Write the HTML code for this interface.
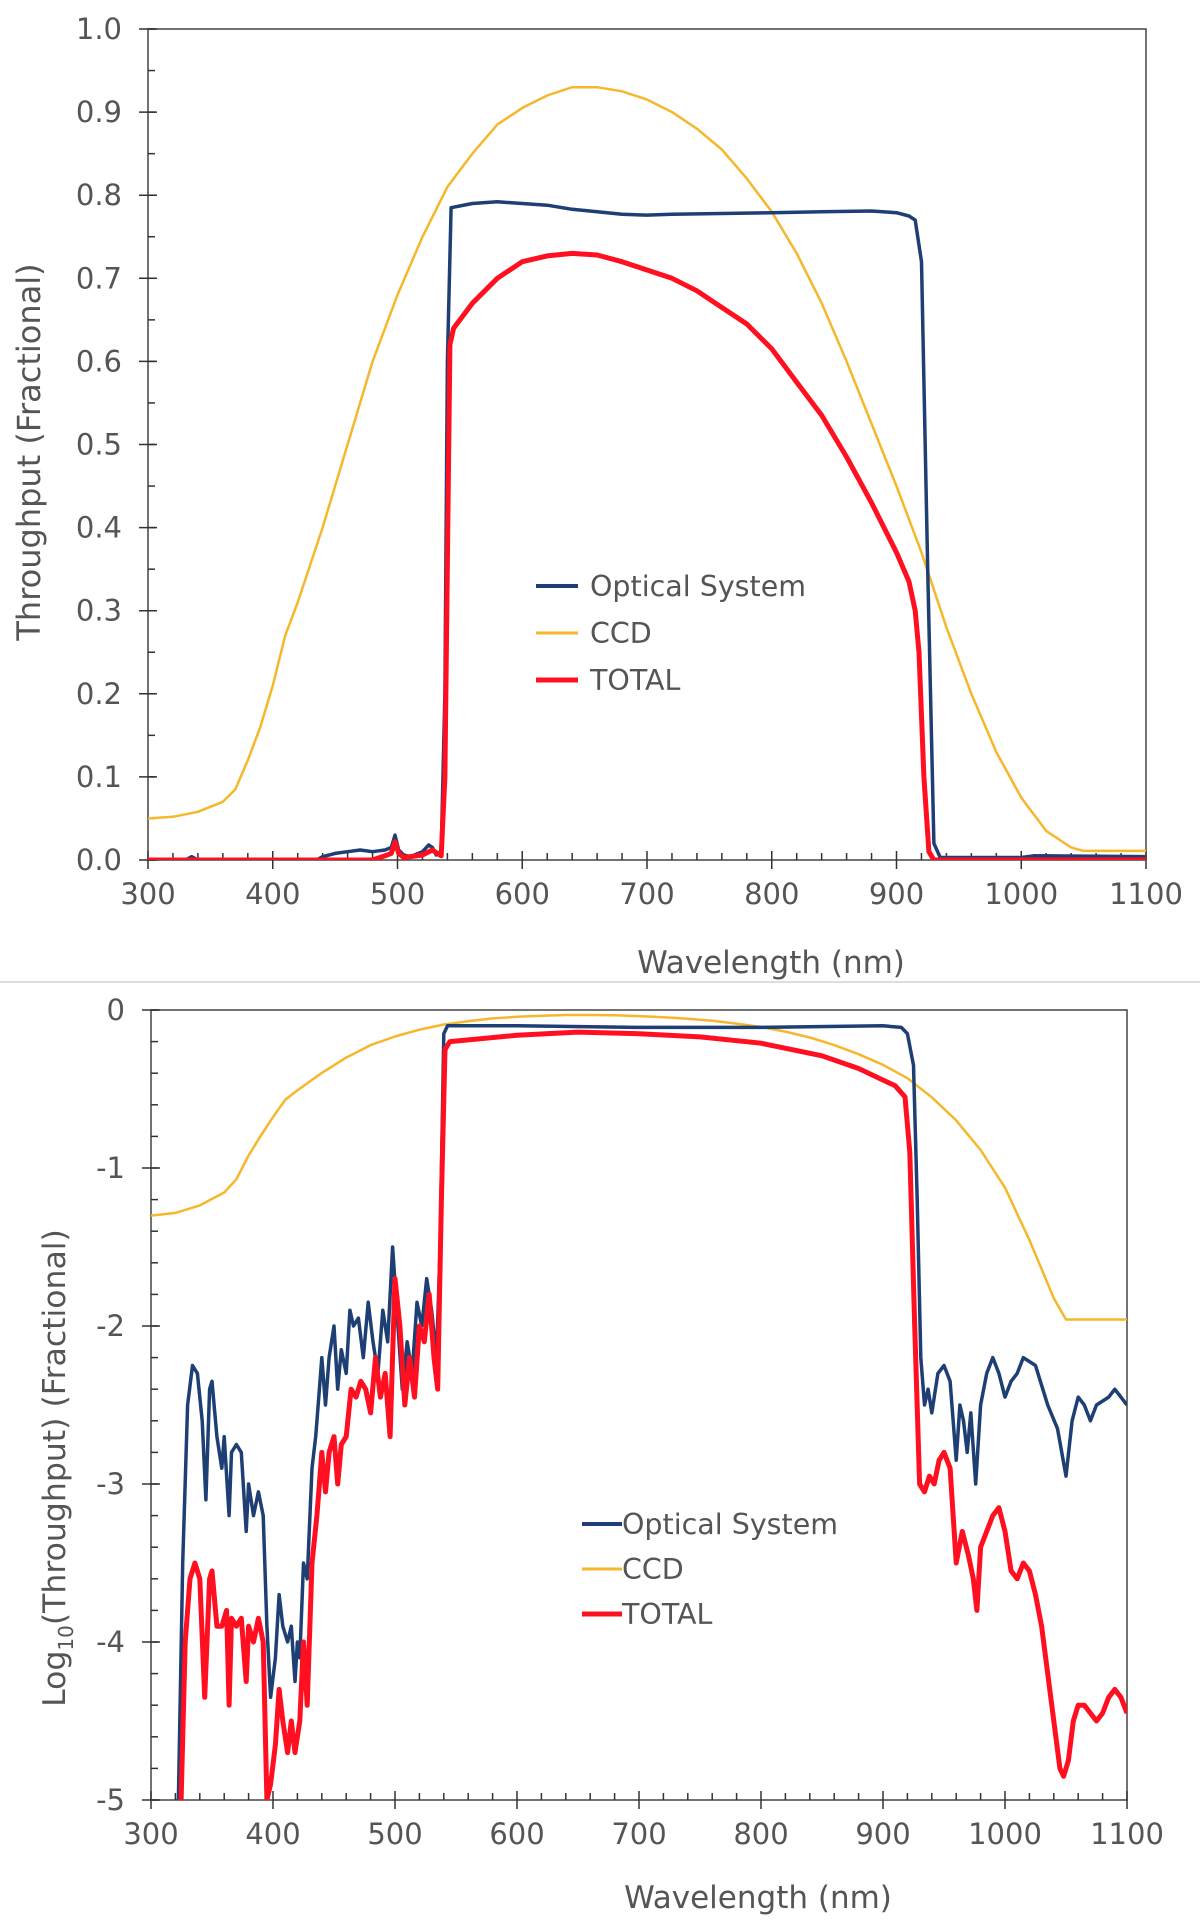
<!DOCTYPE html>
<html><head><meta charset="utf-8"><style>
html,body{margin:0;padding:0;background:#fff}
svg{display:block}
text{font-family:"DejaVu Sans","Liberation Sans",sans-serif;fill:#555}
</style></head><body>
<svg id="svg" width="1200" height="1921" viewBox="0 0 1200 1921" xmlns="http://www.w3.org/2000/svg">
<defs>
<clipPath id="clipTop"><rect x="148" y="29" width="998" height="831"/></clipPath>
<clipPath id="clipBot"><rect x="151" y="1010" width="976" height="790"/></clipPath>
</defs>
<line x1="0" y1="982" x2="1200" y2="982" stroke="#ddd" stroke-width="2"/>
<g id="top"></g>
<g id="bot"></g>
</svg>
<script>
// ---- shared data ----
const ccdWl = [300,320,340,360,370,380,390,400,410,420,440,460,480,500,520,540,560,580,600,620,640,660,680,700,720,740,760,780,800,820,840,860,880,900,920,940,960,980,1000,1020,1040,1050,1100];
const ccdVal = [0.05,0.052,0.058,0.07,0.085,0.12,0.16,0.21,0.27,0.31,0.4,0.5,0.6,0.68,0.75,0.81,0.85,0.885,0.905,0.92,0.93,0.93,0.925,0.915,0.9,0.88,0.855,0.82,0.78,0.73,0.67,0.6,0.525,0.45,0.37,0.28,0.2,0.13,0.075,0.035,0.015,0.011,0.011];
const optWl = [300,330,335,340,435,440,450,460,470,480,490,495,498,501,505,510,520,525,528,531,535,538,540,543,560,580,600,620,640,660,680,700,720,760,800,840,880,900,910,915,920,925,930,935,1000,1010,1100];
const optVal = [0,0,0.004,0,0,0.004,0.008,0.01,0.012,0.01,0.012,0.015,0.03,0.012,0.006,0.004,0.01,0.018,0.015,0.006,0.01,0.2,0.6,0.785,0.79,0.792,0.79,0.788,0.783,0.78,0.777,0.776,0.777,0.778,0.779,0.78,0.781,0.779,0.775,0.77,0.72,0.35,0.02,0.003,0.003,0.005,0.004];
const totWl = [300,480,490,495,498,501,505,520,528,532,535,538,542,545,560,580,600,620,640,660,680,700,720,740,760,780,800,820,840,860,880,900,910,915,918,922,926,930,1100];
const totVal = [0,0,0.005,0.008,0.022,0.008,0.003,0.006,0.012,0.008,0.005,0.1,0.62,0.64,0.67,0.7,0.72,0.727,0.73,0.728,0.72,0.71,0.7,0.685,0.665,0.645,0.615,0.575,0.535,0.485,0.43,0.37,0.335,0.3,0.25,0.1,0.01,0,0];
// ---- log chart data (log10 throughput) ----
const optLogWl = [322,326,330,334,338,342,345,348,350,354,358,360,364,366,370,374,378,380,384,388,392,395,398,402,405,408,412,415,418,420,422,425,428,432,435,438,440,443,446,450,453,456,460,463,466,470,474,478,482,486,490,494,498,502,506,510,514,518,522,526,530,534,537,540,543,600,700,800,900,915,920,925,928,931,934,937,940,945,950,955,960,963,966,969,972,976,980,985,990,995,1000,1005,1010,1015,1025,1035,1043,1050,1055,1060,1065,1070,1075,1085,1090,1095,1100];
const optLogVal = [-5.2,-3.5,-2.5,-2.25,-2.3,-2.6,-3.1,-2.4,-2.35,-2.7,-2.9,-2.7,-3.2,-2.8,-2.75,-2.8,-3.3,-3.0,-3.2,-3.05,-3.2,-3.9,-4.35,-4.1,-3.7,-3.9,-4.0,-3.9,-4.25,-4.0,-4.1,-3.5,-3.6,-2.9,-2.7,-2.4,-2.2,-2.5,-2.2,-2.0,-2.4,-2.15,-2.3,-1.9,-2.0,-1.95,-2.2,-1.85,-2.1,-2.3,-1.9,-2.1,-1.5,-1.95,-2.4,-2.1,-2.3,-1.85,-2.0,-1.7,-1.9,-2.2,-1.5,-0.15,-0.1,-0.1,-0.11,-0.11,-0.1,-0.11,-0.15,-0.35,-1.2,-2.2,-2.5,-2.4,-2.55,-2.3,-2.25,-2.35,-2.85,-2.5,-2.6,-2.8,-2.55,-3.0,-2.5,-2.3,-2.2,-2.3,-2.45,-2.35,-2.3,-2.2,-2.25,-2.5,-2.65,-2.95,-2.6,-2.45,-2.5,-2.6,-2.5,-2.45,-2.4,-2.45,-2.5];
const totLogWl = [324,328,332,336,340,344,348,350,354,358,362,364,366,370,374,378,380,384,388,392,395,398,402,405,408,412,415,418,422,425,428,432,436,438,440,443,446,450,453,456,460,464,468,472,476,480,484,488,492,496,500,504,508,512,516,520,524,528,532,535,538,541,545,600,650,700,750,800,850,880,910,918,922,926,930,934,938,942,946,950,955,960,965,970,974,977,980,985,990,995,1000,1005,1010,1015,1020,1025,1030,1035,1040,1045,1048,1052,1056,1060,1065,1070,1075,1080,1085,1090,1095,1100];
const totLogVal = [-5.2,-4.0,-3.6,-3.5,-3.6,-4.35,-3.6,-3.55,-3.9,-3.9,-3.8,-4.4,-3.85,-3.9,-3.85,-4.25,-3.9,-4.0,-3.85,-4.0,-5.0,-4.9,-4.65,-4.3,-4.5,-4.7,-4.5,-4.7,-4.5,-4.0,-4.4,-3.5,-3.2,-3.0,-2.8,-3.05,-2.8,-2.7,-3.0,-2.75,-2.7,-2.4,-2.45,-2.35,-2.4,-2.55,-2.2,-2.45,-2.3,-2.7,-1.7,-2.0,-2.5,-2.2,-2.45,-2.0,-2.1,-1.8,-2.2,-2.4,-1.2,-0.25,-0.2,-0.16,-0.14,-0.15,-0.17,-0.21,-0.29,-0.37,-0.48,-0.55,-0.9,-2.0,-3.0,-3.05,-2.95,-3.0,-2.85,-2.8,-2.9,-3.5,-3.3,-3.45,-3.6,-3.8,-3.4,-3.3,-3.2,-3.15,-3.3,-3.55,-3.6,-3.5,-3.55,-3.7,-3.9,-4.2,-4.5,-4.8,-4.85,-4.75,-4.5,-4.4,-4.4,-4.45,-4.5,-4.45,-4.35,-4.3,-4.35,-4.45];
const xTicks = [300,400,500,600,700,800,900,1000,1100];
const yTicksTop = ['0.0','0.1','0.2','0.3','0.4','0.5','0.6','0.7','0.8','0.9','1.0'];
const yTicksBot = ['-5','-4','-3','-2','-1','0'];

const NS='http://www.w3.org/2000/svg';
function mk(tag, attrs, parent, txt){const e=document.createElementNS(NS,tag);for(const k in attrs)e.setAttribute(k,attrs[k]);if(txt!==undefined)e.textContent=txt;parent.appendChild(e);return e;}
const BLUE='#1e3f74', YEL='#f6b72c', RED='#ff0f1f';

function drawChart(g, L, R, T, B, ymin, ymax, yTicks, yMinorStep, clip, series, legend, titleHtml, titleX, titleY, titleSize, xTitleX, xTitleY){
  const sx=v=>L+(v-300)/(800)*(R-L);
  const sy=v=>B-(v-ymin)/(ymax-ymin)*(B-T);
  const frame=mk('rect',{x:L,y:T,width:R-L,height:B-T,fill:'none',stroke:'#444','stroke-width':1.5},g);
  
  
  for(let w=320; w<1100; w+=20){ if(w%100===0) continue;
    const t=mk('line',{x1:sx(w),x2:sx(w),y1:B,y2:B-7,stroke:'#333','stroke-width':1.5},g);
    
    
  }
  xTicks.forEach(w=>{
    const t=mk('line',{x1:sx(w),x2:sx(w),y1:B-9,y2:B+9,stroke:'#333','stroke-width':1.5},g);
    
    
    const l=mk('text',{x:sx(w),y:B+44,'text-anchor':'middle','font-size':29},g,String(w));
    
    
  });
  for(let v=ymin; v<=ymax+1e-9; v+=yMinorStep){
    const t=mk('line',{x1:L,x2:L+7,y1:sy(v),y2:sy(v),stroke:'#333','stroke-width':1.5},g);
    
    
  }
  yTicks.forEach(s=>{const v=parseFloat(s);
    const t=mk('line',{x1:L-9,x2:L+9,y1:sy(v),y2:sy(v),stroke:'#333','stroke-width':1.5},g);
    
    
    const l=mk('text',{x:L-26,y:sy(v)+10,'text-anchor':'end','font-size':29},g,s);
    
    
  });
  const sg=mk('g',{'clip-path':'url(#'+clip+')'},g);
  series.forEach(s=>{
    let d='';s.wl.forEach((w,i)=>{d+=(i?'L':'M')+sx(w).toFixed(1)+','+sy(s.val[i]).toFixed(1);});
    const p=mk('path',{d:d,fill:'none',stroke:s.c,'stroke-width':s.w,'stroke-linejoin':'round'},sg);
    
    
  });
  legend.rows.forEach((r,i)=>{
    const y=legend.y+i*legend.dy;
    const ln=mk('line',{x1:legend.x1,x2:legend.x2,y1:y,y2:y,stroke:r.c,'stroke-width':r.w},g);
    
    
    const t=mk('text',{x:legend.tx,y:y+10,'font-size':28.5},g,r.label);
    
    
  });
  const xt=mk('text',{x:xTitleX,y:xTitleY,'text-anchor':'middle','font-size':31},g,'Wavelength (nm)');
  
  
  const yt=mk('text',{x:0,y:0,'text-anchor':'middle','font-size':titleSize,transform:'translate('+titleX+','+titleY+') rotate(-90)'},g);
  yt.innerHTML=titleHtml;
  
  
}

drawChart(document.getElementById('top'),148,1146,29,860,0,1,yTicksTop,0.05,'clipTop',
 [{wl:ccdWl,val:ccdVal,c:YEL,w:2.5,name:'ccd-line'},
  {wl:optWl,val:optVal,c:BLUE,w:3.5,name:'optical-system-line'},
  {wl:totWl,val:totVal,c:RED,w:5,name:'total-line'}],
 {x1:536,x2:578,tx:590,y:586,dy:47,rows:[{c:BLUE,w:4,label:'Optical System'},{c:YEL,w:3,label:'CCD'},{c:RED,w:5,label:'TOTAL'}]},
 'Throughput (Fractional)',40,452,32,771,973);

const ccdLog = ccdVal.map(v=>Math.log10(v));
drawChart(document.getElementById('bot'),151,1127,1010,1800,-5,0,yTicksBot,0.2,'clipBot',
 [{wl:ccdWl,val:ccdLog,c:YEL,w:2.5,name:'ccd-log-line'},
  {wl:optLogWl,val:optLogVal,c:BLUE,w:3.5,name:'optical-system-log-line'},
  {wl:totLogWl,val:totLogVal,c:RED,w:5,name:'total-log-line'}],
 {x1:582,x2:622,tx:622,y:1524,dy:45,rows:[{c:BLUE,w:4,label:'Optical System'},{c:YEL,w:3,label:'CCD'},{c:RED,w:5,label:'TOTAL'}]},
 'Log<tspan font-size="20" dy="8">10</tspan><tspan dy="-8">(Throughput) (Fractional)</tspan>',65,1468,31.5,758,1908);
</script>
</body></html>
